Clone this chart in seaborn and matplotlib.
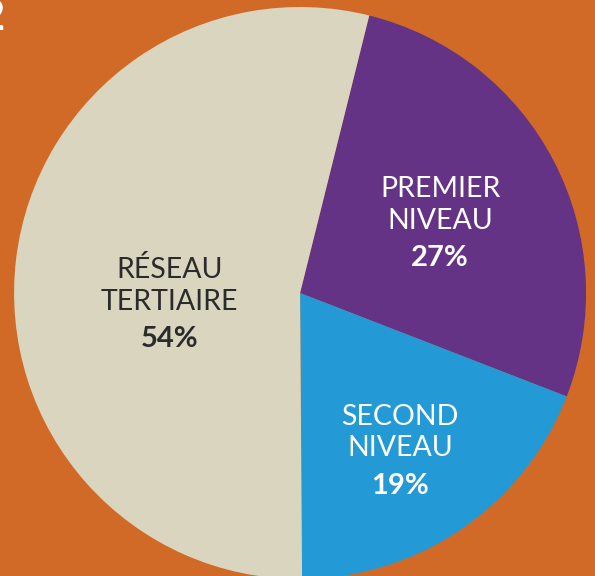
import matplotlib
matplotlib.use("Agg")
import matplotlib.pyplot as plt
import seaborn as sns
import numpy as np

categories = ["PREMIER\nNIVEAU", "SECOND\nNIVEAU", "RÉSEAU\nTERTIAIRE"]
values = [27, 19, 54]
pct_labels = ["27%", "19%", "54%"]

sns.set_theme(style="white")
plt.rcParams['font.family'] = ['Lato', 'DejaVu Sans']

bg = "#D26A27"
colors = ["#643385", "#2399D6", "#D9D5BF"]
text_colors = ["#FFFFFF", "#FFFFFF", "#2B2B2B"]

fig = plt.figure(figsize=(5.95, 5.76), dpi=100, facecolor=bg)
ax = fig.add_axes([0, 0, 1, 1])
ax.set_facecolor(bg)

wedges, _ = ax.pie(values, colors=colors, startangle=76, counterclock=False,
                   radius=1.0, wedgeprops=dict(linewidth=0))

# label placement: radius from centre and angle (degrees)
label_r = [0.536, 0.675, 0.462]
label_ang = [23.9, -58.8, 187.9]
for name, pct, r, a, tc in zip(categories, pct_labels, label_r, label_ang, text_colors):
    x = r * np.cos(np.radians(a))
    y = r * np.sin(np.radians(a))
    ax.text(x, y + 0.09, name, ha="center", va="center", fontsize=20.5,
            color=tc, linespacing=1.27, fontweight="normal")
    ax.text(x, y - 0.096, pct, ha="center", va="center", fontsize=21,
            color=tc, fontweight="bold")

ax.set_xlim(-1.049, 1.031)
ax.set_ylim(-0.9895, 1.0245)
ax.set_aspect("equal")
ax.axis("off")

fig.text(5 / 595, 1 - 30 / 576, "2", color="white", fontsize=30, ha="right",
         va="baseline", fontweight="bold")

fig.savefig("out.png", dpi=100, facecolor=bg)
